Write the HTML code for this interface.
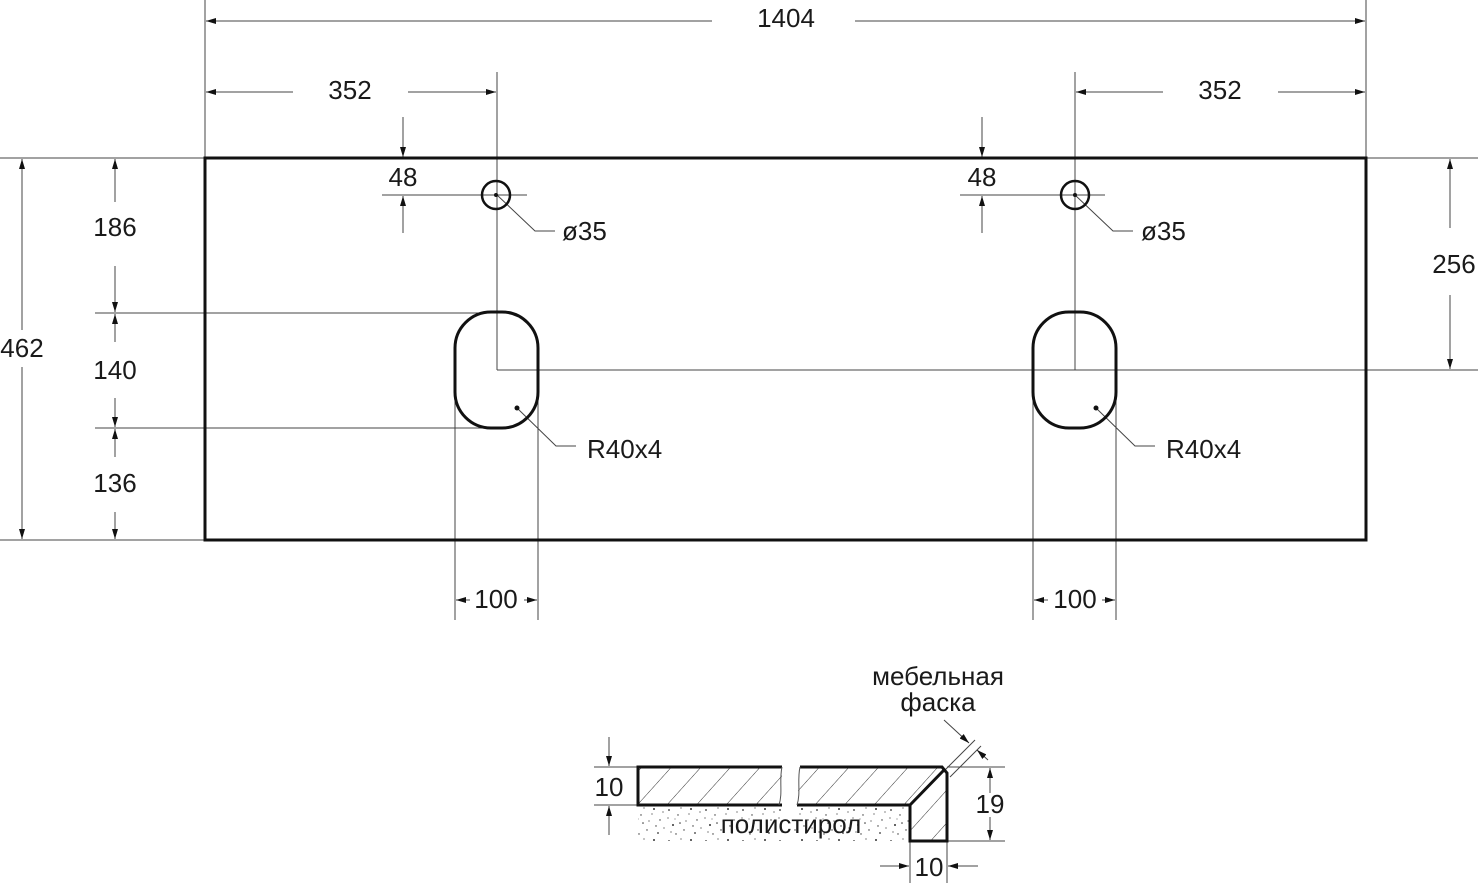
<!DOCTYPE html>
<html><head><meta charset="utf-8"><style>
html,body{margin:0;padding:0;background:#fff;}
svg{display:block;}
text{font-family:"Liberation Sans",sans-serif;font-size:26px;fill:#1a1a1a;}
</style></head><body>
<svg width="1479" height="883" viewBox="0 0 1479 883" xmlns="http://www.w3.org/2000/svg">
<defs>
<marker id="a" viewBox="0 0 10 6" refX="10" refY="3" markerWidth="10" markerHeight="6" markerUnits="userSpaceOnUse" orient="auto">
<path d="M0,0 L10,3 L0,6 z" fill="#111"/></marker>
<pattern id="h" patternUnits="userSpaceOnUse" width="22" height="22" patternTransform="rotate(42)">
<line x1="0" y1="0" x2="0" y2="22" stroke="#333" stroke-width="1"/></pattern>
<pattern id="d" patternUnits="userSpaceOnUse" width="37" height="31">
<g fill="#333">
<circle cx="3" cy="4" r=".9"/><circle cx="12" cy="9" r=".7"/><circle cx="25" cy="3" r="1"/><circle cx="31" cy="14" r=".7"/><circle cx="7" cy="19" r="1"/><circle cx="18" cy="24" r=".7"/><circle cx="29" cy="27" r=".9"/><circle cx="20" cy="15" r=".6"/><circle cx="34" cy="6" r=".6"/><circle cx="10" cy="28" r=".7"/><circle cx="15" cy="2" r=".6"/><circle cx="2" cy="12" r=".6"/><circle cx="23" cy="8" r=".6"/><circle cx="27" cy="20" r=".7"/><circle cx="5" cy="26" r=".6"/><circle cx="14" cy="17" r=".8"/><circle cx="35" cy="22" r=".6"/><circle cx="9" cy="13" r=".5"/>
</g></pattern>
</defs>
<g stroke="#444" stroke-width="1" fill="none">
<line x1="205" y1="0" x2="205" y2="158"/>
<line x1="1366" y1="0" x2="1366" y2="158"/>
<line x1="497" y1="72" x2="497" y2="370"/>
<line x1="1075" y1="72" x2="1075" y2="370"/>
<line x1="497" y1="370" x2="1478" y2="370"/>
<line x1="1366" y1="158" x2="1478" y2="158"/>
<line x1="0" y1="158" x2="205" y2="158"/>
<line x1="0" y1="540" x2="205" y2="540"/>
<line x1="95" y1="313" x2="497" y2="313"/>
<line x1="95" y1="428" x2="497" y2="428"/>
<line x1="382" y1="195" x2="527" y2="195"/>
<line x1="960" y1="195" x2="1105" y2="195"/>
<line x1="455" y1="340" x2="455" y2="620"/>
<line x1="538" y1="340" x2="538" y2="620"/>
<line x1="1033" y1="340" x2="1033" y2="620"/>
<line x1="1116" y1="340" x2="1116" y2="620"/>
<polyline points="497,195 535,231 555,231"/>
<polyline points="1075,195 1113,231 1133,231"/>
<polyline points="517,408 556,446 576,446"/>
<polyline points="1096,408 1135,446 1155,446"/>
</g>
<g stroke="#444" stroke-width="1" fill="none" marker-end="url(#a)">
<line x1="712" y1="21" x2="206" y2="21"/><line x1="855" y1="21" x2="1365" y2="21"/>
<line x1="293" y1="92" x2="206" y2="92"/><line x1="408" y1="92" x2="496" y2="92"/>
<line x1="1163" y1="92" x2="1076" y2="92"/><line x1="1278" y1="92" x2="1365" y2="92"/>
<line x1="403" y1="117" x2="403" y2="157"/><line x1="403" y1="233" x2="403" y2="196"/>
<line x1="982" y1="117" x2="982" y2="157"/><line x1="982" y1="233" x2="982" y2="196"/>
<line x1="22" y1="330" x2="22" y2="159"/><line x1="22" y1="367" x2="22" y2="539"/>
<line x1="115" y1="202" x2="115" y2="159"/><line x1="115" y1="266" x2="115" y2="312"/>
<line x1="115" y1="342" x2="115" y2="314"/><line x1="115" y1="398" x2="115" y2="427"/>
<line x1="115" y1="457" x2="115" y2="429"/><line x1="115" y1="512" x2="115" y2="539"/>
<line x1="1450" y1="228" x2="1450" y2="159"/><line x1="1450" y1="295" x2="1450" y2="369"/>
<line x1="470" y1="600" x2="456" y2="600"/><line x1="524" y1="600" x2="537" y2="600"/>
<line x1="1048" y1="600" x2="1034" y2="600"/><line x1="1102" y1="600" x2="1115" y2="600"/>
</g>
<rect x="205" y="158" width="1161" height="382" fill="none" stroke="#111" stroke-width="3"/>
<circle cx="496" cy="195" r="14" fill="none" stroke="#111" stroke-width="2.5"/>
<circle cx="1075" cy="195" r="14" fill="none" stroke="#111" stroke-width="2.5"/>
<circle cx="496" cy="195" r="2" fill="#111"/><circle cx="1075" cy="195" r="2" fill="#111"/>
<rect x="455" y="312" width="83" height="116" rx="36" ry="36" fill="none" stroke="#111" stroke-width="3"/>
<rect x="1033" y="312" width="83" height="116" rx="36" ry="36" fill="none" stroke="#111" stroke-width="3"/>
<circle cx="517" cy="408" r="2.5" fill="#111"/><circle cx="1096" cy="408" r="2.5" fill="#111"/>
<text x="786" y="27" text-anchor="middle">1404</text>
<text x="350" y="99" text-anchor="middle">352</text>
<text x="1220" y="99" text-anchor="middle">352</text>
<text x="403" y="186" text-anchor="middle">48</text>
<text x="982" y="186" text-anchor="middle">48</text>
<text x="562" y="240">ø35</text>
<text x="1141" y="240">ø35</text>
<text x="587" y="458">R40x4</text>
<text x="1166" y="458">R40x4</text>
<text x="22" y="357" text-anchor="middle">462</text>
<text x="115" y="236" text-anchor="middle">186</text>
<text x="115" y="379" text-anchor="middle">140</text>
<text x="115" y="492" text-anchor="middle">136</text>
<text x="1454" y="273" text-anchor="middle">256</text>
<text x="496" y="608" text-anchor="middle">100</text>
<text x="1075" y="608" text-anchor="middle">100</text>
<g stroke="#444" stroke-width="1" fill="none">
<line x1="594" y1="767" x2="638" y2="767"/><line x1="594" y1="805" x2="638" y2="805"/>
<line x1="947" y1="767" x2="1005" y2="767"/><line x1="947" y1="841" x2="1005" y2="841"/>
<line x1="910" y1="841" x2="910" y2="883"/><line x1="947" y1="841" x2="947" y2="883"/>
<line x1="944" y1="771" x2="975" y2="740"/><line x1="950" y1="777" x2="981" y2="746"/>
</g>
<g stroke="#444" stroke-width="1" fill="none" marker-end="url(#a)">
<line x1="609" y1="737" x2="609" y2="766"/><line x1="609" y1="835" x2="609" y2="806"/>
<line x1="990" y1="793" x2="990" y2="768"/><line x1="990" y1="817" x2="990" y2="840"/>
<line x1="880" y1="866" x2="909" y2="866"/><line x1="978" y1="866" x2="948" y2="866"/>
<line x1="944" y1="720" x2="969" y2="743"/><line x1="988" y1="760" x2="977" y2="750"/>
</g>
<rect x="638" y="805" width="145" height="36" fill="url(#d)"/>
<path d="M797,805 L910,805 L910,841 L793,841 Z" fill="url(#d)"/>
<rect x="638" y="767" width="144" height="38" fill="url(#h)"/>
<path d="M800,767 L942,767 L947,773 L947,841 L910,841 L910,805 L797,805 Z" fill="url(#h)"/>
<g stroke="#111" stroke-width="3" fill="none">
<polyline points="782,767 638,767 638,805 782,805"/>
<polyline points="800,767 942,767 947,773 947,841 910,841 910,805 797,805"/>
<line x1="910" y1="805" x2="944" y2="770"/>
</g>
<path d="M782,767 C779,780 783,793 779,805" stroke="#555" fill="none"/>
<path d="M800,767 C797,780 801,793 797,805" stroke="#555" fill="none"/>
<text x="791" y="833" text-anchor="middle">полистирол</text>
<text x="609" y="796" text-anchor="middle">10</text>
<text x="990" y="813" text-anchor="middle">19</text>
<text x="929" y="876" text-anchor="middle">10</text>
<text x="938" y="685" text-anchor="middle">мебельная</text>
<text x="938" y="711" text-anchor="middle">фаска</text>
</svg>
</body></html>
